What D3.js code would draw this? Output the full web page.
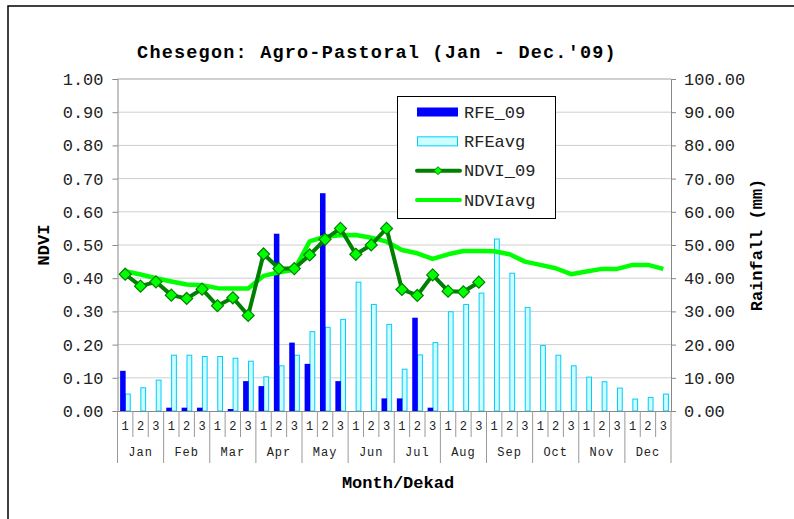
<!DOCTYPE html>
<html><head><meta charset="utf-8">
<script src="https://cdn.jsdelivr.net/npm/d3@7"></script>
<style>
html,body{margin:0;padding:0;background:#fff;}
svg text{font-family:"Liberation Mono","DejaVu Sans Mono",monospace;}
</style></head>
<body><svg id="c" width="794" height="519"></svg>
<script>
const title = "Chesegon: Agro-Pastoral (Jan - Dec.'09)";
const months = ["Jan","Feb","Mar","Apr","May","Jun","Jul","Aug","Sep","Oct","Nov","Dec"];
const dekads = ["1","2","3"];
const rfe09 = [12.1,0,0,1.0,1.0,1.0,0,0.6,9.0,7.5,53.4,20.6,14.2,65.6,9.0,0,0,3.8,3.8,28.1,1.0,0,0,0,
  null,null,null,null,null,null,null,null,null,null,null,null];
const rfeAvg = [5.1,7.0,9.3,16.8,16.8,16.4,16.4,15.9,15.0,10.3,13.6,16.8,23.9,25.2,27.6,38.8,32.1,26.1,12.6,16.9,20.6,29.9,32.1,35.5,
  51.8,41.5,31.2,19.7,16.8,13.6,10.2,8.8,6.9,3.6,4.1,5.1];
const ndvi09 = [0.412,0.376,0.389,0.349,0.339,0.367,0.317,0.341,0.288,0.473,0.429,0.429,0.470,0.517,0.550,0.472,0.500,0.550,
  0.366,0.348,0.410,0.361,0.359,0.388];
const ndviAvg = [0.421,0.411,0.400,0.390,0.381,0.379,0.370,0.369,0.369,0.407,0.418,0.425,0.511,0.525,0.529,0.530,0.522,0.510,
  0.485,0.475,0.458,0.472,0.482,0.482,0.481,0.472,0.450,0.440,0.430,0.412,0.420,0.428,0.428,0.440,0.440,0.428];
const ndviTicks = [0,0.1,0.2,0.3,0.4,0.5,0.6,0.7,0.8,0.9,1.0];
const rainTicks = [0,10,20,30,40,50,60,70,80,90,100];
const seriesNames = ["RFE_09","RFEavg","NDVI_09","NDVIavg"];

const svg = d3.select("#c");
svg.append("rect").attr("width",794).attr("height",519).attr("fill","#fff");
svg.append("rect").attr("x",8).attr("y",6).attr("width",800).attr("height",530)
  .attr("fill","none").attr("stroke","#000").attr("stroke-width",1.5);

const L = 117.5, R = 671, T = 79, B = 411;
const n = 36;
const x = d3.scaleBand().domain(d3.range(n)).range([L,R]);
const yL = d3.scaleLinear().domain([0,1]).range([B,T]);
const yR = d3.scaleLinear().domain([0,100]).range([B,T]);
const bw = x.bandwidth();

// grid
svg.append("g").selectAll("line").data(ndviTicks.slice(1)).join("line")
  .attr("x1",L).attr("x2",R).attr("y1",d=>yL(d)).attr("y2",d=>yL(d))
  .attr("stroke",d=>d===1?"#a0a0a0":"#cfcfcf").attr("stroke-width",1);

// bars
svg.append("g").selectAll("rect").data(rfeAvg).join("rect")
  .attr("x",(d,i)=>x(i)+bw*0.52).attr("width",bw*0.31)
  .attr("y",d=>yR(d)).attr("height",d=>B-yR(d))
  .attr("fill","#ccffff").attr("stroke","#00ccff").attr("stroke-width",1);
svg.append("g").selectAll("rect").data(rfe09.map((v,i)=>({v,i})).filter(d=>d.v!==null&&d.v>0)).join("rect")
  .attr("x",d=>x(d.i)+bw*0.17).attr("width",bw*0.36)
  .attr("y",d=>yR(d.v)).attr("height",d=>B-yR(d.v))
  .attr("fill","#0000ff");

// lines
const cx = i => x(i)+bw/2;
const line = d3.line().x((d,i)=>cx(i)).y(d=>yL(d));
svg.append("path").datum(ndviAvg).attr("d",line).attr("fill","none")
  .attr("stroke","#00ff00").attr("stroke-width",4.5).attr("stroke-linejoin","round");
svg.append("path").datum(ndvi09).attr("d",line).attr("fill","none")
  .attr("stroke","#008000").attr("stroke-width",4).attr("stroke-linejoin","round");
svg.append("g").selectAll("path").data(ndvi09).join("path")
  .attr("d","M0,-6L6,0L0,6L-6,0Z")
  .attr("transform",(d,i)=>`translate(${cx(i)},${yL(d)})`)
  .attr("fill","#00ff00").attr("stroke","#008000").attr("stroke-width",1.2);

// axes
const fmt = d3.format(".2f");
const axL = svg.append("g").attr("transform",`translate(${L},0)`)
  .call(d3.axisLeft(yL).tickValues(ndviTicks).tickFormat(fmt).tickSize(5).tickPadding(9));
const axR = svg.append("g").attr("transform",`translate(${R},0)`)
  .call(d3.axisRight(yR).tickValues(rainTicks).tickFormat(fmt).tickSize(5).tickPadding(8));
[axL,axR].forEach(a=>{
  a.select(".domain").attr("stroke","#888");
  a.selectAll(".tick line").attr("stroke","#888");
  a.selectAll(".tick text").attr("font-size",17).attr("fill","#222")
    .attr("font-family","'Liberation Mono',monospace");
});

// bottom axis
const axB = svg.append("g").attr("transform",`translate(0,${B})`)
  .call(d3.axisBottom(x).tickFormat(i=>dekads[i%3]).tickSize(0).tickPadding(10));
axB.select(".domain").attr("stroke","#888");
axB.selectAll(".tick text").attr("font-size",12).attr("fill","#222")
  .attr("font-family","'Liberation Mono',monospace");
const bounds = d3.range(n+1);
svg.append("g").selectAll("line").data(bounds).join("line")
  .attr("x1",i=>i<n?x(i):R).attr("x2",i=>i<n?x(i):R)
  .attr("y1",B).attr("y2",i=>i%3===0?463:437)
  .attr("stroke","#999").attr("stroke-width",1);
svg.append("g").selectAll("text").data(months).join("text")
  .attr("x",(d,i)=>x(i*3)+bw*1.5).attr("y",456)
  .attr("text-anchor","middle").attr("font-size",12).attr("fill","#222")
  .attr("letter-spacing",1).text(d=>d);

// titles
svg.append("text").attr("x",377).attr("y",58).attr("text-anchor","middle")
  .attr("font-size",18.5).attr("letter-spacing",1.2).attr("font-weight","bold").attr("fill","#000").text(title);
svg.append("text").attr("x",398).attr("y",488).attr("text-anchor","middle")
  .attr("font-size",17).attr("font-weight","bold").attr("fill","#000").text("Month/Dekad");
svg.append("text").attr("transform","translate(49,245) rotate(-90)").attr("text-anchor","middle")
  .attr("font-size",17).attr("font-weight","bold").attr("fill","#000").text("NDVI");
svg.append("text").attr("transform","translate(762,245) rotate(-90)").attr("text-anchor","middle")
  .attr("font-size",17).attr("font-weight","bold").attr("fill","#000").text("Rainfall (mm)");

// legend
const lg = svg.append("g");
lg.append("rect").attr("x",397.5).attr("y",96.5).attr("width",158).attr("height",122)
  .attr("fill","#fff").attr("stroke","#000").attr("stroke-width",1);
const rowY = d3.scalePoint().domain(seriesNames).range([112,200]);
lg.append("rect").attr("x",417).attr("y",rowY("RFE_09")-4.5).attr("width",41).attr("height",9).attr("fill","#0000ff");
lg.append("rect").attr("x",417.5).attr("y",rowY("RFEavg")-4.5).attr("width",40).attr("height",9)
  .attr("fill","#ccffff").attr("stroke","#00ccff");
lg.append("line").attr("x1",417).attr("x2",460).attr("y1",rowY("NDVI_09")).attr("y2",rowY("NDVI_09"))
  .attr("stroke","#008000").attr("stroke-width",4).attr("stroke-linecap","round");
lg.append("path").attr("d","M0,-4L4,0L0,4L-4,0Z").attr("transform",`translate(438,${rowY("NDVI_09")})`)
  .attr("fill","#00ff00").attr("stroke","#008000").attr("stroke-width",1);
lg.append("line").attr("x1",417).attr("x2",460).attr("y1",rowY("NDVIavg")).attr("y2",rowY("NDVIavg"))
  .attr("stroke","#00ff00").attr("stroke-width",4).attr("stroke-linecap","round");
lg.selectAll("text.l").data(seriesNames).join("text").attr("class","l")
  .attr("x",464).attr("y",d=>rowY(d)+5.5).attr("font-size",17).attr("fill","#222").text(d=>d);
</script></body></html>
